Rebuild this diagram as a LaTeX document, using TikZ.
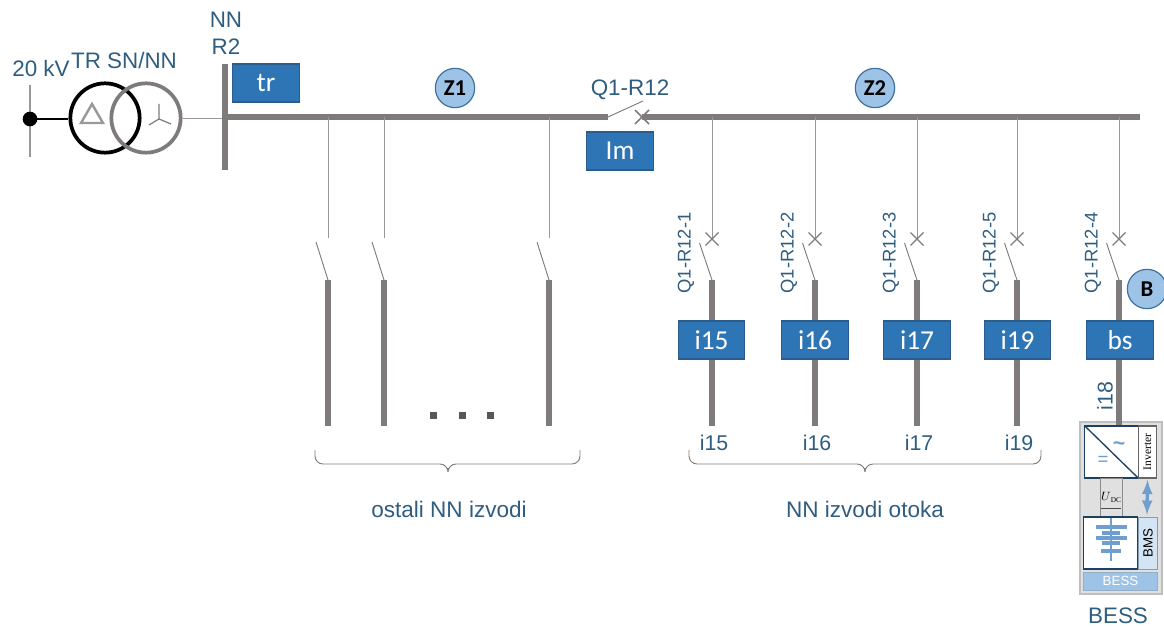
\documentclass[tikz,border=0pt]{standalone}
\usepackage{fontspec}
\setmainfont{Liberation Sans}
\newfontfamily\boxfont{Carlito}
\newfontfamily\sern{Liberation Serif}
\definecolor{txt}{HTML}{2F5D80}
\definecolor{barc}{HTML}{7F7B7B}
\definecolor{boxf}{HTML}{2E75B6}
\definecolor{boxl}{HTML}{2A5D8C}
\definecolor{circf}{HTML}{9DC3E6}
\definecolor{circl}{HTML}{41719C}
\definecolor{batt}{HTML}{6F9FCF}
\definecolor{thinl}{HTML}{9A9797}
\begin{document}
\begin{tikzpicture}[x=0.75pt,y=-0.75pt,
  lab/.style={text=txt,font=\fontsize{16.8}{19}\selectfont,inner sep=0pt},
  vlab/.style={text=txt,font=\fontsize{13.8}{16}\selectfont,inner sep=0pt,rotate=90},
  flab/.style={text=txt,font=\fontsize{16}{18}\selectfont,inner sep=0pt},
  blab/.style={text=txt,font=\fontsize{16.9}{19}\selectfont,inner sep=0pt},
  bluebox/.style={draw=boxl,line width=0.8pt,fill=boxf,text=white,font=\boxfont\fontsize{20.5}{22}\selectfont,minimum width=50pt,minimum height=28.5pt,inner sep=0pt},
  zone/.style={circle,draw=circl,line width=0.9pt,fill=circf,minimum size=29.5pt,inner sep=0pt,font=\boxfont\bfseries\fontsize{17}{19}\selectfont,text=black},
  bar/.style={draw=barc,line width=4pt},
  thin line/.style={draw=thinl,line width=0.7pt},
  blade/.style={draw=barc,line width=0.7pt},
  brace/.style={draw=barc,line width=0.7pt,rounded corners=6pt},
  bx/.style={draw=#1,fill=white,inner sep=0pt,line width=0.8pt}]
\useasboundingbox (0,0) rectangle (1164,627);

% source and transformer
\coordinate (srcT) at (30,85);
\coordinate (srcB) at (30,157);
\draw[thin line,line width=1pt] (srcT) -- (srcB);
\node[circle,fill=black,minimum size=11pt,inner sep=0pt] (src) at (30,119) {};
\node[circle,draw=black,line width=2.8pt,minimum size=52pt,inner sep=0pt] (t1) at (105,118) {};
\node[circle,draw=barc,line width=2.8pt,minimum size=52pt,inner sep=0pt] (t2) at (146,118) {};
\draw[black,line width=0.9pt] (src.center) -- (src.center -| t1.west);
\draw[thinl,line width=1.8pt,line join=miter] (92,104) -- (81,123) -- (103,123) -- cycle;
\draw[barc,line width=0.9pt] (159,104) -- (159,119) -- (149,125) (159,119) -- (171,124);
\node[lab] at (41,68) {20 kV};
\node[lab] at (124,60) {TR SN/NN};
\node[lab] at (226,20) {NN};
\node[lab] at (226,47) {R2};

% main bus
\coordinate (busT) at (225,64);
\coordinate (busB) at (225,170);
\coordinate (busJ) at (225,118);
\coordinate (swA) at (608,117);
\coordinate (swB) at (643,101);
\coordinate (swX) at (642,117);
\coordinate (busE) at (1140,117);
\draw[thin line] (t2.east) -- (busJ);
\draw[bar,line width=5pt] (busT) -- (busB);
\draw[bar,line width=4.4pt] (busT |- swA) -- (swA);
\draw[bar,line width=4.4pt] (swX) -- (busE);
\draw[blade] (swA) -- (swB);
\draw[barc,line width=1.1pt] (635,110) -- (649,124) (635,124) -- (649,110);
\node[lab] at (630,90) {Q1-R12};
\node[bluebox] (tr) at (266,83) {tr};
\node[bluebox] (lm) at (620,151) {Im};
\node[zone] (z1) at (455,88) {Z1};
\node[zone] (z2) at (875,88) {Z2};

% other feeders
\foreach \n/\x in {a/328,b/384,c/549}{
  \coordinate (f\n T) at (\x,117);
  \coordinate (f\n M) at (\x,238);
  \coordinate (f\n S) at (\x,280);
  \coordinate (f\n O) at (\x-12,242);
  \coordinate (f\n E) at (\x,426);
  \draw[thin line] (f\n T) -- (f\n M);
  \draw[blade] (f\n S) -- (f\n O);
  \draw[bar] (f\n S) -- (f\n E);
}
\foreach \x in {433,462,490}
  \fill[barc!70!black] (\x-3.5,411.5) rectangle (\x+3.5,418.5);

% island feeders
\foreach \n/\x/\q/\bxx/\nm in {1/712/1/711.5/i15,2/815/2/815/i16,3/917/3/917/i17,4/1017/5/1017.5/i19}{
  \coordinate (g\n T) at (\x,117);
  \coordinate (g\n X) at (\x,239);
  \coordinate (g\n S) at (\x,280);
  \coordinate (g\n O) at (\x-12.5,243);
  \coordinate (g\n E) at (\x,426);
  \draw[thin line] (g\n T) -- (g\n X);
  \draw[barc,line width=0.9pt] (\x-6.5,232.5) -- (\x+6.5,245.5) (\x-6.5,245.5) -- (\x+6.5,232.5);
  \draw[blade] (g\n S) -- (g\n O);
  \draw[bar] (g\n S) -- (g\n E);
  \node[bluebox] (b\n) at (\bxx,340) {\nm};
  \node[vlab] at (\x-26,253) {Q1-R12-\q};
  \node[flab] at (\x+2,443) {\nm};
}

% battery feeder
\coordinate (hT) at (1119,117);
\coordinate (hX) at (1119,239);
\coordinate (hS) at (1119,280);
\coordinate (hO) at (1106.5,243);
\draw[thin line] (hT) -- (hX);
\draw[barc,line width=0.9pt] (1112.5,232.5) -- (1125.5,245.5) (1112.5,245.5) -- (1125.5,232.5);
\draw[blade] (hS) -- (hO);
\node[vlab] at (1093,253) {Q1-R12-4};
\node[flab,rotate=90] at (1105,396) {i18};

% BESS
\node[draw=black!25,fill=black!12,line width=1.5pt,minimum width=61.5pt,minimum height=129pt,inner sep=0pt] (bess) at (1120.5,507.5) {};
\coordinate (hE) at (1119,426);
\draw[bar] (hS) -- (hE);
\node[bluebox] (bs) at (1120,340) {bs};
\node[zone] (zb) at (1147,289) {B};

\node[bx=boxl!70!black,minimum width=40pt,minimum height=39pt] (inv) at (1111.5,452) {};
\draw[boxl!70!black,line width=1pt] (inv.north west) -- (inv.south east);
\node[text=batt,font=\fontsize{14}{14}\selectfont,inner sep=0pt] at (1103,461) {=};
\node[text=batt,font=\bfseries\fontsize{16}{14}\selectfont,inner sep=0pt] at (1119,446) {\textasciitilde};
\node[bx=black!60,minimum width=14pt,minimum height=39pt,font=\sern\fontsize{8.6}{9}\selectfont] (invl) at (1147.5,452) {\rotatebox{90}{Inverter}};
\node[draw=black!45,fill=black!12,line width=0.6pt,minimum width=16.5pt,minimum height=29pt,inner sep=0pt,font=\sern\fontsize{9}{9}\selectfont] (udc) at (1111,497.5) {$U$\raisebox{-1pt}{\fontsize{5.5}{5}\selectfont DC}};
\draw[black!70,line width=0.6pt] (1101,508) -- (1121,508);
\draw[<->,>=latex,batt,line width=2.6pt,shorten <=1pt,shorten >=1pt] (invl.south) -- (1147,516);
\node[bx=boxl!70!black,minimum width=41pt,minimum height=39pt] (bat) at (1110.5,543) {};
\node[draw=boxl!60,fill=circf!45,line width=0.6pt,minimum width=14pt,minimum height=39pt,inner sep=0pt,font=\fontsize{10}{10}\selectfont] (bms) at (1148,543) {\rotatebox{90}{BMS}};
\node[draw=boxl!50,fill=circf,line width=0.6pt,minimum width=56pt,minimum height=13.5pt,inner sep=0pt,text=white,font=\fontsize{10}{10}\selectfont] (bbar) at (1120.5,581) {BESS};
\draw[batt,line width=2pt] (1111,518) -- (1111,561);
\foreach \y/\w in {527/15.5,533/9,538/15.5,543/9,551/10}
  \draw[batt,line width=2.7pt] (1111-\w,\y) -- (1111+\w,\y);
\node[lab] at (1118,616) {BESS};

% braces
\coordinate (l1) at (315,450); \coordinate (l2) at (448,476); \coordinate (l3) at (580,450);
\draw[brace] (l1) |- (448,464) -- (l2) -- (448,464) -| (l3);
\coordinate (r1) at (689,450); \coordinate (r2) at (865,476); \coordinate (r3) at (1041,450);
\draw[brace] (r1) |- (865,464) -- (r2) -- (865,464) -| (r3);
\node[blab] at (449,509) {ostali NN izvodi};
\node[blab] at (865,509) {NN izvodi otoka};
\end{tikzpicture}
\end{document}
